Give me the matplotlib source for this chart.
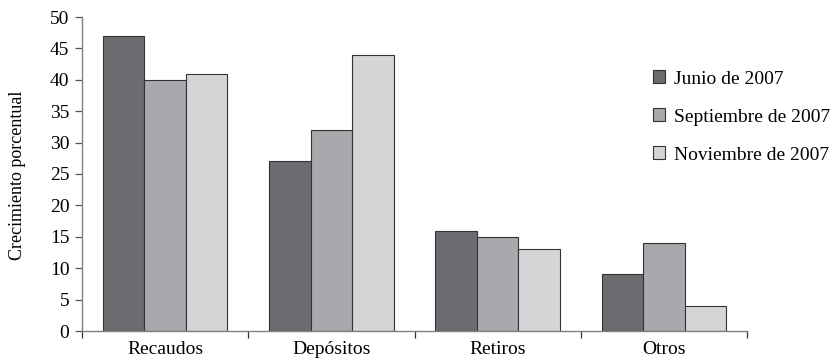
import matplotlib

matplotlib.use("Agg")
import matplotlib.pyplot as plt
import numpy as np

categories = ["Recaudos", "Depósitos", "Retiros", "Otros"]
series_names = ["Junio de 2007", "Septiembre de 2007", "Noviembre de 2007"]
junio = [47, 27, 16, 9]
septiembre = [40, 32, 15, 14]
noviembre = [41, 44, 13, 4]

colors = ["#6b6c70", "#a8a9ad", "#d4d5d7"]

plt.rcParams["font.family"] = ["Liberation Serif", "DejaVu Serif"]

fig = plt.figure(figsize=(8.35, 3.64), dpi=100)
ax = fig.add_axes([82 / 835, 1 - 331 / 364, (747 - 82) / 835, (331 - 17) / 364])

x = np.arange(len(categories))
width = 0.25
for k, (vals, name) in enumerate(zip([junio, septiembre, noviembre], series_names)):
    ax.bar(x + (k - 1) * width, vals, width, color=colors[k], edgecolor="#333333",
           linewidth=0.8, label=name, zorder=2)

ax.set_xlim(-0.5, len(categories) - 0.5)
ax.set_ylim(0, 50)
ax.set_yticks(range(0, 51, 5))
ax.tick_params(axis="y", labelsize=14, length=5, color="#555555", width=0.9, pad=4)

# category labels centred, tick marks on the group boundaries
ax.set_xticks(x)
ax.set_xticklabels(categories, fontsize=14)
ax.tick_params(axis="x", which="major", length=0, pad=7)
ax.set_xticks(np.arange(-0.5, len(categories)), minor=True)
ax.tick_params(axis="x", which="minor", length=5, color="#333333", width=0.9)

for side in ("top", "right"):
    ax.spines[side].set_visible(False)
for side in ("left", "bottom"):
    ax.spines[side].set_color("#808080")
    ax.spines[side].set_linewidth(1.0)

fig.text(18 / 835, 1 - 175 / 364, "Crecimiento porcentual", rotation=90,
         fontsize=13, ha="center", va="center")

fig.legend(loc="center left", bbox_to_anchor=(653 / 835, 1 - 117 / 364), frameon=False,
           fontsize=14, handlelength=0.62, handleheight=0.62, handletextpad=0.45,
           labelspacing=1.07, borderpad=0, borderaxespad=0)

fig.savefig("out.png", dpi=100)
